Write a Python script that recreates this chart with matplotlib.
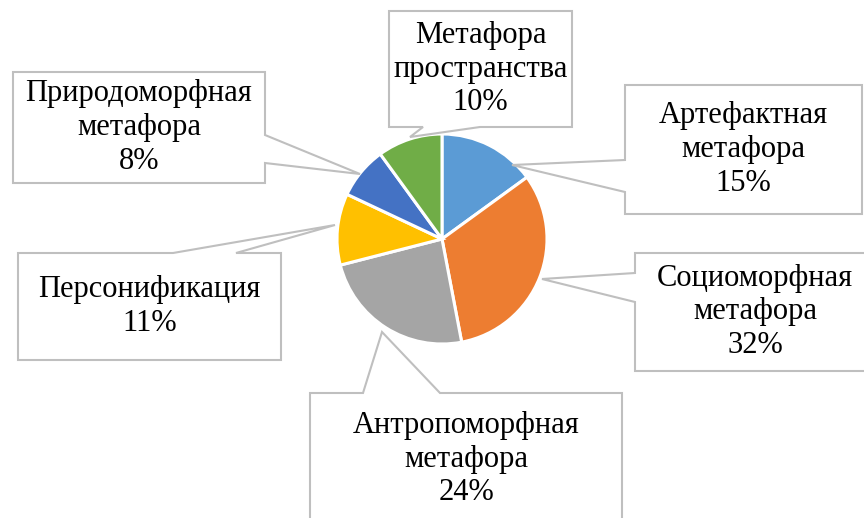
import matplotlib
matplotlib.use("Agg")
import matplotlib.pyplot as plt
from matplotlib.patches import Polygon

categories = ["Артефактная\nметафора", "Социоморфная\nметафора", "Антропоморфная\nметафора",
              "Персонификация", "Природоморфная\nметафора", "Метафора\nпространства"]
values = [15, 32, 24, 11, 8, 10]
colors = ["#5B9BD5", "#ED7D31", "#A5A5A5", "#FFC000", "#4472C4", "#70AD47"]

W, H = 864, 518
fig = plt.figure(figsize=(W / 100, H / 100), dpi=100)
ax = fig.add_axes([0, 0, 1, 1])

cx, cy, r = 442, 239, 105  # pixel coords (y from top)
ax.pie(values, colors=colors, startangle=90, counterclock=False,
       center=(cx, H - cy), radius=r, frame=True,
       wedgeprops=dict(edgecolor="white", linewidth=2.2))
ax.set_xlim(0, W)
ax.set_ylim(0, H)
ax.set_aspect("equal")
ax.axis("off")

# layout: box (x0, y0, x1, y1), side, wedge base (a, b), tip  -- pixel coords, y from top
layout = [
    ((625, 85, 862, 214), "left", (192, 160), (512, 165)),
    ((635, 253, 875, 371), "left", (302, 273), (542, 279)),
    ((310, 393, 622, 525), "top", (363, 440), (382, 332)),
    ((18, 253, 281, 360), "top", (173, 236), (335, 225)),
    ((13, 72, 265, 183), "right", (135, 163), (360, 174)),
    ((389, 11, 572, 127), "bottom", (480, 423), (410, 137)),
]

def fy(y):
    return H - y

for (box, side, (a, b), tip), lab, v in zip(layout, categories, values):
    x0, y0, x1, y1 = box
    if side == "top":
        pts = [(x0, y0), (a, y0), tip, (b, y0), (x1, y0), (x1, y1), (x0, y1)]
    elif side == "right":
        pts = [(x0, y0), (x1, y0), (x1, a), tip, (x1, b), (x1, y1), (x0, y1)]
    elif side == "bottom":
        pts = [(x0, y0), (x1, y0), (x1, y1), (a, y1), tip, (b, y1), (x0, y1)]
    else:  # left
        pts = [(x0, y0), (x1, y0), (x1, y1), (x0, y1), (x0, a), tip, (x0, b)]
    poly = Polygon([(px, fy(py)) for px, py in pts], closed=True,
                   facecolor="white", edgecolor="#BFBFBF", linewidth=1.5, zorder=5)
    ax.add_patch(poly)
    ax.text((x0 + x1) / 2, fy((y0 + y1) / 2),
            f"{lab}\n{v}%", ha="center", va="center", fontsize=22,
            family="Liberation Serif", color="#000000", linespacing=1.22, zorder=6)

fig.savefig("out.png", dpi=100)
